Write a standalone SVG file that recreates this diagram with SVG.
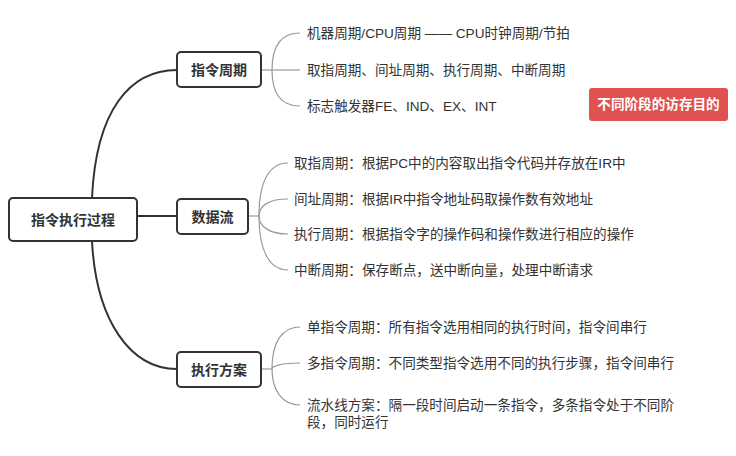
<svg xmlns="http://www.w3.org/2000/svg" width="736" height="456" viewBox="0 0 736 456">
<style>
.box{fill:#fff;stroke:#333;stroke-width:2}
.main{fill:none;stroke:#333;stroke-width:2}
.br{fill:none;stroke:#999;stroke-width:1.2}
.lbl{font-family:"Liberation Sans","Noto Sans CJK SC",sans-serif;font-size:14px;font-weight:bold;fill:#333;text-anchor:middle;dominant-baseline:central}
.leaf{font-family:"Liberation Sans","Noto Sans CJK SC",sans-serif;font-size:13.6px;fill:#333;dominant-baseline:central}
.tag{font-family:"Liberation Sans","Noto Sans CJK SC",sans-serif;font-size:13.6px;font-weight:bold;fill:#fff;text-anchor:middle;dominant-baseline:central}
</style>
<rect width="736" height="456" fill="#fff"/>
<g id="connectors">
<path class="main" d="M92,198 C96,110 130,70 177,70"/>
<path class="main" d="M137,216 L177,216"/>
<path class="main" d="M92,241 C96,320 130,369 177,369"/>
<path class="br" d="M261,70 L272,70"/>
<path class="br" d="M272,70 C272,45 282,33 300,33"/>
<path class="br" d="M272,70 L300,70"/>
<path class="br" d="M272,70 C272,95 282,106 300,106"/>
<path class="br" d="M248,216 L259,216"/>
<path class="br" d="M259,216 C259,180 270,163 288,163"/>
<path class="br" d="M259,216 C259,205 270,199 288,199"/>
<path class="br" d="M259,216 C259,227 270,234 288,234"/>
<path class="br" d="M259,216 C259,252 270,270 288,270"/>
<path class="br" d="M261,369 L272,369"/>
<path class="br" d="M272,369 C272,342 282,327 300,327"/>
<path class="br" d="M272,369 C272,366 282,363 300,363"/>
<path class="br" d="M272,369 C272,390 282,405 300,405"/>
</g>
<g id="root">
<rect class="box" x="9" y="198" width="128" height="43" rx="4"/>
<text class="lbl" x="73" y="219.5">指令执行过程</text>
</g>
<g id="n-cycle">
<rect class="box" x="177" y="52" width="84" height="35" rx="4"/>
<text class="lbl" x="219" y="69.5">指令周期</text>
</g>
<g id="n-flow">
<rect class="box" x="177" y="199" width="71" height="35" rx="4"/>
<text class="lbl" x="212.5" y="216.5">数据流</text>
</g>
<g id="n-plan">
<rect class="box" x="177" y="352" width="84" height="35" rx="4"/>
<text class="lbl" x="219" y="369.5">执行方案</text>
</g>
<g id="c1"><text class="leaf" x="307" y="33">机器周期/CPU周期 —— CPU时钟周期/节拍</text></g>
<g id="c2"><text class="leaf" x="307" y="70">取指周期、间址周期、执行周期、中断周期</text></g>
<g id="c3"><text class="leaf" x="307" y="106">标志触发器FE、IND、EX、INT</text></g>
<g id="d1"><text class="leaf" x="294" y="163">取指周期：根据PC中的内容取出指令代码并存放在IR中</text></g>
<g id="d2"><text class="leaf" x="294" y="199">间址周期：根据IR中指令地址码取操作数有效地址</text></g>
<g id="d3"><text class="leaf" x="294" y="234">执行周期：根据指令字的操作码和操作数进行相应的操作</text></g>
<g id="d4"><text class="leaf" x="294" y="270">中断周期：保存断点，送中断向量，处理中断请求</text></g>
<g id="p1"><text class="leaf" x="307" y="327">单指令周期：所有指令选用相同的执行时间，指令间串行</text></g>
<g id="p2"><text class="leaf" x="307" y="363">多指令周期：不同类型指令选用不同的执行步骤，指令间串行</text></g>
<g id="p3"><text class="leaf" x="307" y="405">流水线方案：隔一段时间启动一条指令，多条指令处于不同阶</text><text class="leaf" x="307" y="422">段，同时运行</text></g>
<g id="tag">
<rect x="589" y="88" width="139" height="33" rx="3" fill="#e05252"/>
<text class="tag" x="658.5" y="104.5">不同阶段的访存目的</text>
</g>
</svg>
